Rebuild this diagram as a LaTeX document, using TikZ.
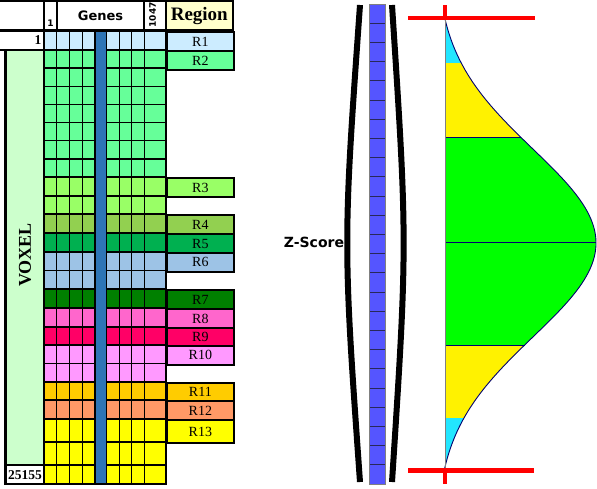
\documentclass[tikz,border=0pt]{standalone}
\usepackage{fontspec}
\setmainfont{Liberation Serif}
\newfontfamily\vsans{DejaVu Sans}
\usepackage{xcolor}
\usetikzlibrary{positioning,calc}
\definecolor{rOne}{RGB}{204,236,255}
\definecolor{rTwo}{RGB}{102,255,153}
\definecolor{rThree}{RGB}{153,255,102}
\definecolor{rFour}{RGB}{146,208,80}
\definecolor{rFive}{RGB}{0,176,80}
\definecolor{rSix}{RGB}{157,195,230}
\definecolor{rSeven}{RGB}{0,128,0}
\definecolor{rEight}{RGB}{255,102,204}
\definecolor{rNine}{RGB}{255,0,102}
\definecolor{rTen}{RGB}{255,153,255}
\definecolor{rEleven}{RGB}{255,204,0}
\definecolor{rTwelve}{RGB}{255,153,102}
\definecolor{rThirteen}{RGB}{255,255,0}
\definecolor{geneblue}{RGB}{46,117,182}
\definecolor{voxgreen}{RGB}{204,255,204}
\definecolor{hdryellow}{RGB}{255,255,204}
\definecolor{zblue}{RGB}{85,85,255}
\definecolor{zline}{RGB}{40,40,90}
\definecolor{tailcyan}{RGB}{34,230,255}
\definecolor{midgreen}{RGB}{0,255,0}
\definecolor{navy}{RGB}{0,0,110}
\tikzset{
  cell/.style   = {line width=1.5pt},
  band/.style   = {line width=2.3pt},
  reg/.style    = {draw, line width=2.3pt, inner sep=0pt, anchor=north west, minimum width=67pt, minimum height=19pt, font=\fontsize{14}{14}\selectfont},
  hsans/.style  = {inner sep=0pt, font=\vsans\bfseries\fontsize{9}{9}\selectfont},
  hserif/.style = {inner sep=0pt, font=\bfseries\fontsize{13.5}{13.5}\selectfont},
  zcell/.style  = {draw=zline, line width=0.9pt},
  curve/.style  = {draw=navy, line width=0.9pt},
  marker/.style = {draw=red, line width=4.3pt},
  declare function={gx(\t)=445+151*(exp(-0.5*((\t-243)/94)^2)-0.0585)/0.9415;}
}

\begin{document}
\begin{tikzpicture}[x=1pt, y=-1pt]
\useasboundingbox (0,0) rectangle (597,488);

% Header
\fill[hdryellow] (165.7,1) rectangle (233,30.5);
\draw[band] (-2,1) rectangle (233,30.5);
\foreach \x in {44.3,56.7,144.3,165.7} \draw[band] (\x,1) -- (\x,30.5);
\node[hsans] (h1) at (50.5,23.5) {1};
\node[inner sep=0pt, font=\vsans\bfseries\fontsize{13}{13}\selectfont] (genes) at (100.5,16) {Genes};
\node[hsans, rotate=90] (hlast) at (152.5,15) {1047};
\node[inner sep=0pt, font=\bfseries\fontsize{19}{19}\selectfont] (region) at (199.3,16) {Region};

% Voxel labels
\draw[band, fill=white] (-2,31) rectangle (44.3,50);
\node[hserif, anchor=east] (v1) at (41.5,40.5) {1};
\draw[band, fill=voxgreen] (5.5,50) rectangle (44.3,465);
\node[inner sep=0pt, font=\bfseries\fontsize{18}{18}\selectfont, rotate=90] (voxel) at (25,255) {VOXEL};
\draw[band, fill=white] (5.5,465) rectangle (44.3,484);
\node[hserif] (vlast) at (25,475) {25155};

% Gene cells
\foreach \t/\b/\c in {31/50/rOne,
    50/68.1/rTwo, 68.1/86.3/rTwo, 86.3/104.4/rTwo, 104.4/122.6/rTwo, 122.6/140.7/rTwo, 140.7/158.9/rTwo, 158.9/177/rTwo,
    177/196/rThree, 196/214/rThree, 214/233/rFour, 233/252/rFive, 252/270.5/rSix, 270.5/289/rSix,
    289/308/rSeven, 308/327/rEight, 327/345/rNine, 345/363.5/rTen, 363.5/382/rTen,
    382/400/rEleven, 400/419/rTwelve, 419/442/rThirteen, 442/465/rThirteen, 465/484/rThirteen}{
  \fill[\c] (44.3,\t) rectangle (165.7,\b);
  \draw[cell] (44.3,\t) rectangle (165.7,\b);
  \foreach \x in {56.7,69.3,82.3,95,106.7,119.3,131.7,144.3}
    \draw[cell] (\x,\t) -- (\x,\b);
}
\foreach \t/\b in {31/50, 50/177, 177/214, 214/233, 233/252, 252/289, 289/308, 308/327, 327/345, 345/382, 382/400, 400/419, 419/484}
  \draw[band] (44.3,\t) rectangle (165.7,\b);
\fill[geneblue] (95.75,32.2) rectangle (105.95,482.8);

% Regions
\node[reg, fill=rOne] (r1) at (165.7,31) {R1};
\node[reg, fill=rTwo] (r2) at (165.7,50) {R2};
\node[reg, fill=rThree] (r3) at (165.7,177) {R3};
\node[reg, fill=rFour] (r4) at (165.7,214) {R4};
\node[reg, fill=rFive] (r5) at (165.7,233) {R5};
\node[reg, fill=rSix, minimum height=18.5pt] (r6) at (165.7,252) {R6};
\node[reg, fill=rSeven] (r7) at (165.7,289) {R7};
\node[reg, fill=rEight] (r8) at (165.7,308) {R8};
\node[reg, fill=rNine, minimum height=18pt] (r9) at (165.7,327) {R9};
\node[reg, fill=rTen, minimum height=18.5pt] (r10) at (165.7,345) {R10};
\node[reg, fill=rEleven, minimum height=18pt] (r11) at (165.7,382) {R11};
\node[reg, fill=rTwelve] (r12) at (165.7,400) {R12};
\node[reg, fill=rThirteen, minimum height=23pt] (r13) at (165.7,419) {R13};

% Z-score column
\node[inner sep=0pt, font=\vsans\bfseries\fontsize{14}{14}\selectfont] (zs) at (314,242) {Z-Score};
\draw[line width=6pt] (360,5) .. controls (343,243) .. (360,482);
\draw[line width=6pt] (392,5) .. controls (407.5,243) .. (392,482);
\fill[zblue] (369,4) rectangle (385.3,484);
\foreach \i in {1,...,24} \draw[zcell] (369,4+\i*19.2) -- (385.3,4+\i*19.2);
\draw[gray, line width=0.8pt] (369,4) rectangle (385.3,484);

% Distribution
\fill[tailcyan] (445,18) -- plot[domain=18:63, samples=20] ({gx(\x)},\x) -- (445,63) -- cycle;
\fill[yellow] (445,63) -- plot[domain=63:137, samples=25] ({gx(\x)},\x) -- (445,137) -- cycle;
\fill[midgreen] (445,137) -- plot[domain=137:345, samples=50] ({gx(\x)},\x) -- (445,345) -- cycle;
\fill[yellow] (445,345) -- plot[domain=345:418, samples=25] ({gx(\x)},\x) -- (445,418) -- cycle;
\fill[tailcyan] (445,418) -- plot[domain=418:470, samples=20] ({gx(\x)},\x) -- (445,470) -- cycle;
\draw[curve] plot[domain=18:470, samples=120] ({gx(\x)},\x);
\foreach \y in {137,242,345} \draw[curve] (445,\y) -- ({gx(\y)},\y);
\draw[gray, line width=1pt] (445,18) -- (445,470);

% Limits
\draw[marker] (408,18) -- (535,18);
\draw[marker] (445,5) -- (445,18);
\draw[marker] (408,470.5) -- (534,470.5);
\draw[marker] (445,470.5) -- (445,484);
\end{tikzpicture}
\end{document}
